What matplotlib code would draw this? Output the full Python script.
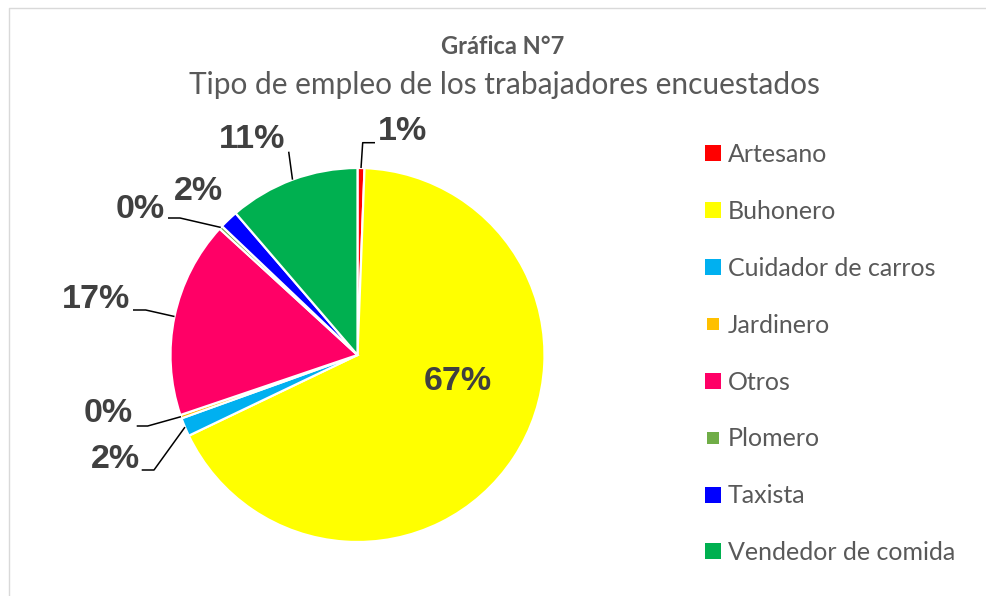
import matplotlib.pyplot as plt
import numpy as np
from matplotlib.lines import Line2D

# datos de la grafica
categorias = ['Artesano', 'Buhonero', 'Cuidador de carros', 'Jardinero',
              'Otros', 'Plomero', 'Taxista', 'Vendedor de comida']
porcentajes = [0.6, 67.3, 1.6, 0.3, 17.0, 0.3, 1.6, 11.3]
colores = ['#FF0000', '#FFFF00', '#00B0F0', '#FFC000',
           '#FF0066', '#70AD47', '#0000FF', '#00B050']
etiquetas = [f"{p:.0f}%" for p in porcentajes]

W, H = 987, 596
fig = plt.figure(figsize=(W / 100, H / 100), dpi=100)
ax = fig.add_axes([0, 0, 1, 1])

cx, cy, r = 357.5, H - 355, 187
wedges, _ = ax.pie(porcentajes, colors=colores, startangle=90, counterclock=False,
                   center=(cx, cy), radius=r, frame=True,
                   wedgeprops=dict(edgecolor='white', linewidth=1.6))
ax.set_xlim(0, W)
ax.set_ylim(0, H)
ax.set_aspect('equal')
ax.axis('off')

# marco del grafico (solo borde superior e izquierdo visibles)
ax.plot([9, 9, W + 5], [-5, H - 7.5, H - 7.5], color='#d9d9d9', lw=1, clip_on=False)

# posiciones de las etiquetas (pixeles de la imagen) y codos de las guias
pos_etq = [(402, 131), (458, 381), (115, 460), (108, 414),
           (96, 299), (140, 210), (198, 191), (252, 140)]
codos = [[(375, 142.7), (362.7, 142.7)], None, [(141.7, 470), (154, 470)],
         [(136.7, 426), (147.7, 426)], [(133, 310), (145.7, 310)],
         [(168, 218), (180, 218)], None, [(288.7, 151.7)]]

lbl_font = dict(family=['Liberation Sans', 'DejaVu Sans'], fontweight='bold',
                fontsize=24.5, color='#404040')
for w, txt, (px, py), codo in zip(wedges, etiquetas, pos_etq, codos):
    ax.text(px, H - py, txt, ha='center', va='center', **lbl_font)
    if codo is None:
        continue
    mid = np.deg2rad((w.theta1 + w.theta2) / 2)
    ax_pt = (cx + r * np.cos(mid), cy + r * np.sin(mid))
    xs = [p[0] for p in codo] + [ax_pt[0]]
    ys = [H - p[1] for p in codo] + [ax_pt[1]]
    ax.plot(xs, ys, color='black', lw=1.1, solid_capstyle='butt')

# titulo
fig.text(503 / W, 1 - 47 / H, 'Gráfica N°7', ha='center', va='center',
         fontsize=17, fontweight='bold', color='#595959', family='Lato')
fig.text(504 / W, 1 - 85 / H, 'Tipo de empleo de los trabajadores encuestados',
         ha='center', va='center', fontsize=21.5, color='#595959', family='Lato')

# leyenda
tam = [11.5, 11.5, 11.5, 8.6, 11.5, 8.6, 11.5, 11.5]
handles = [Line2D([], [], ls='none', marker='s', markersize=s, color=c, markeredgewidth=0)
           for c, s in zip(colores, tam)]
ax.legend(handles, categorias, loc='upper left', bbox_to_anchor=(705.5 / W, 1 - 143 / H),
          frameon=False, prop=dict(family='Lato', size=18), labelcolor='#595959',
          handlelength=0.6, handletextpad=0.3, labelspacing=1.355, borderpad=0,
          borderaxespad=0)

fig.savefig('out.png', dpi=100)
